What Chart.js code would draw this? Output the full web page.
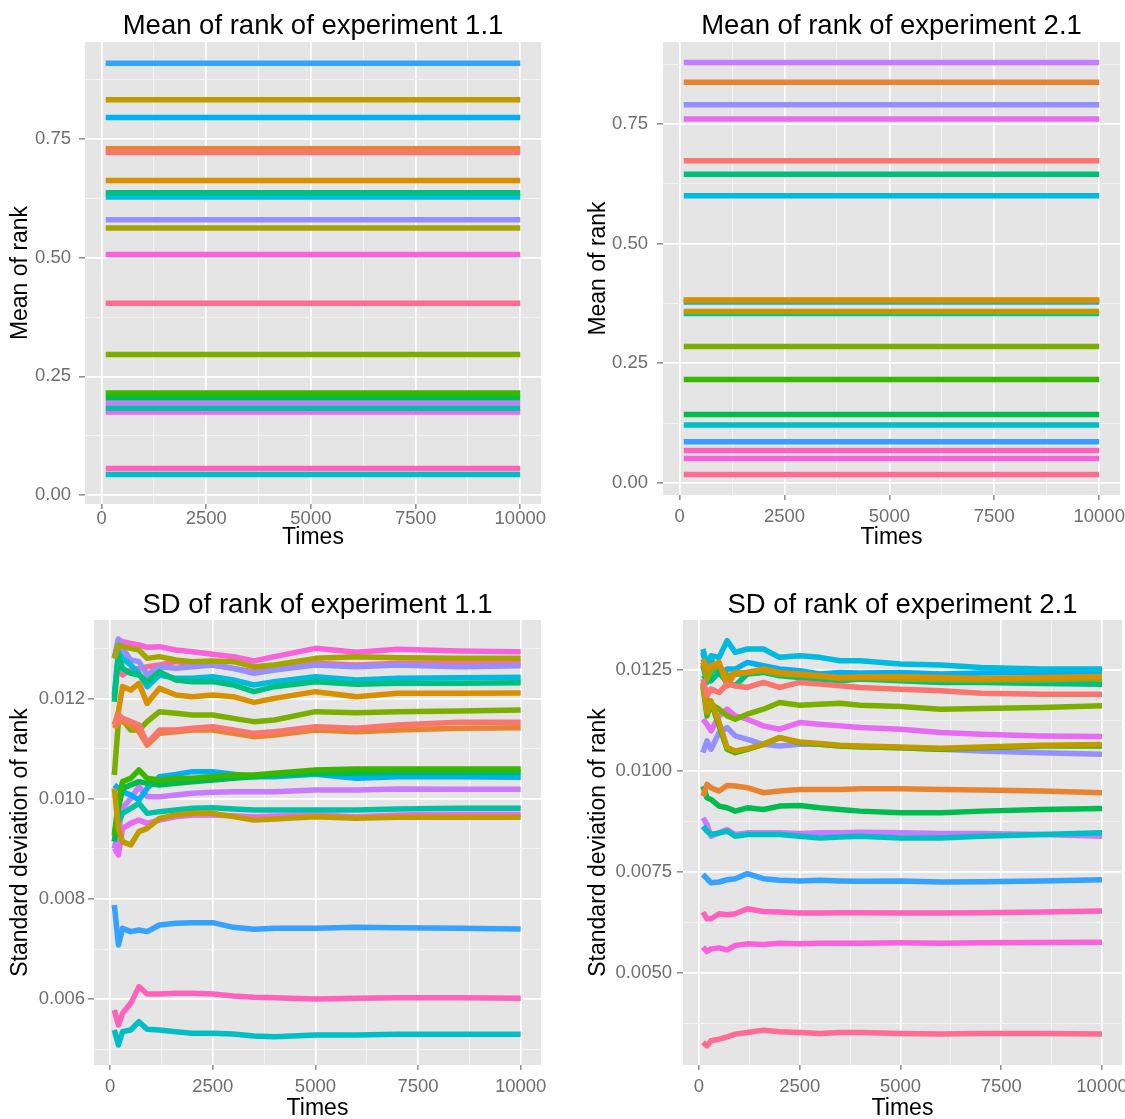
<!DOCTYPE html>
<html>
<head>
<meta charset="utf-8">
<script src="https://cdn.jsdelivr.net/npm/chart.js@4.4.0/dist/chart.umd.min.js"></script>
<style>
  html, body { margin: 0; padding: 0; background: #fff; overflow: hidden; }
  #fig { position: relative; width: 1125px; height: 1119px; overflow: hidden; }
  canvas { position: absolute; }
</style>
</head>
<body>
<div id="fig">
  <canvas id="c1" width="560" height="560" style="left:0;top:0"></canvas>
  <canvas id="c2" width="600" height="560" style="left:565px;top:0"></canvas>
  <canvas id="c3" width="560" height="569" style="left:0;top:560px"></canvas>
  <canvas id="c4" width="600" height="569" style="left:565px;top:560px"></canvas>
</div>
<script>
// ggplot default hue palette, 20 series, in factor order
const hueColors = ['#F8766D', '#EA8331', '#D89000', '#C09B00', '#A3A500', '#7CAE00', '#39B600', '#00BB4E', '#00BF7D', '#00C1A3',
  '#00BFC4', '#00BAE0', '#00B0F6', '#35A2FF', '#9590FF', '#C77CFF', '#E76BF3', '#FA62DB', '#FF62BC', '#FF6C91'];

const timeTicks = [0, 2500, 5000, 7500, 10000];
const meanTicks = [0, 0.25, 0.5, 0.75];
const sd11Ticks = [0.006, 0.008, 0.010, 0.012];
const sd21Ticks = [0.005, 0.0075, 0.010, 0.0125];

// mean of rank (flat over the whole run)
const meanTimes = [100, 10000];
const meanExp11 = [0.722, 0.730, 0.663, 0.833, 0.563, 0.296, 0.215, 0.205, 0.637, 0.183,
  0.043, 0.628, 0.796, 0.910, 0.580, 0.194, 0.175, 0.507, 0.056, 0.404];
const meanExp21 = [0.673, 0.837, 0.382, 0.358, 0.381, 0.285, 0.216, 0.143, 0.645, 0.354,
  0.121, 0.600, 0.378, 0.086, 0.790, 0.878, 0.760, 0.051, 0.068, 0.018];

// SD of rank, values in thousandths
const SD_UNIT = 1e-3;
const sdTimes = [100, 200, 300, 500, 700, 900, 1200, 1600, 2000, 2500, 3000, 3500, 4000, 5000, 6000, 7000, 8500, 10000];
const sdExp11 = [
  [11.48, 11.68, 11.613, 11.547, 11.48, 11.113, 11.38, 11.38, 11.413, 11.447, 11.38, 11.313, 11.347, 11.447, 11.413, 11.48, 11.533, 11.533],
  [11.413, 11.547, 11.547, 11.48, 11.347, 11.08, 11.313, 11.347, 11.38, 11.38, 11.313, 11.247, 11.28, 11.38, 11.347, 11.38, 11.413, 11.427],
  [11.48, 11.747, 12.247, 12.18, 12.313, 11.913, 12.213, 12.08, 12.047, 12.08, 12.047, 11.933, 12.013, 12.147, 12.047, 12.113, 12.113, 12.12],
  [10.213, 9.413, 9.147, 9.08, 9.347, 9.413, 9.613, 9.68, 9.713, 9.713, 9.647, 9.58, 9.6, 9.647, 9.613, 9.633, 9.633, 9.633],
  [12.813, 13.08, 13.047, 13.013, 12.98, 12.813, 12.847, 12.78, 12.747, 12.76, 12.747, 12.647, 12.68, 12.813, 12.847, 12.827, 12.813, 12.813],
  [10.48, 11.547, 11.58, 11.38, 11.38, 11.547, 11.747, 11.713, 11.68, 11.68, 11.613, 11.547, 11.58, 11.747, 11.727, 11.747, 11.76, 11.78],
  [9.28, 9.947, 10.347, 10.413, 10.58, 10.413, 10.38, 10.413, 10.413, 10.447, 10.48, 10.48, 10.513, 10.58, 10.6, 10.6, 10.6, 10.6],
  [9.147, 9.813, 10.213, 10.28, 10.347, 10.313, 10.28, 10.313, 10.347, 10.38, 10.413, 10.447, 10.48, 10.513, 10.513, 10.533, 10.533, 10.533],
  [11.947, 12.88, 12.613, 12.513, 12.48, 12.347, 12.547, 12.38, 12.347, 12.347, 12.28, 12.147, 12.247, 12.347, 12.293, 12.313, 12.313, 12.327],
  [9.347, 9.547, 9.713, 9.813, 9.913, 9.713, 9.747, 9.78, 9.813, 9.827, 9.8, 9.78, 9.78, 9.78, 9.78, 9.8, 9.813, 9.813],
  [5.38, 5.08, 5.347, 5.38, 5.547, 5.393, 5.38, 5.347, 5.313, 5.313, 5.3, 5.26, 5.247, 5.28, 5.28, 5.293, 5.293, 5.293],
  [12.08, 12.947, 12.813, 12.68, 12.513, 12.247, 12.48, 12.413, 12.413, 12.447, 12.38, 12.28, 12.347, 12.447, 12.38, 12.413, 12.427, 12.433],
  [10.28, 10.213, 10.147, 10.08, 9.98, 10.213, 10.447, 10.493, 10.547, 10.547, 10.493, 10.447, 10.447, 10.493, 10.413, 10.447, 10.447, 10.433],
  [7.88, 7.08, 7.413, 7.347, 7.38, 7.347, 7.48, 7.513, 7.527, 7.527, 7.433, 7.393, 7.413, 7.413, 7.433, 7.427, 7.413, 7.4],
  [12.813, 13.2, 13.013, 12.78, 12.747, 12.48, 12.647, 12.613, 12.647, 12.68, 12.613, 12.513, 12.58, 12.68, 12.647, 12.68, 12.647, 12.667],
  [9.013, 9.347, 9.813, 10.013, 10.247, 10.047, 10.047, 10.08, 10.113, 10.133, 10.147, 10.147, 10.147, 10.18, 10.18, 10.2, 10.193, 10.193],
  [9.013, 8.88, 9.413, 9.513, 9.58, 9.513, 9.58, 9.647, 9.68, 9.68, 9.667, 9.647, 9.66, 9.68, 9.647, 9.68, 9.693, 9.693],
  [12.813, 13.18, 13.147, 13.113, 13.08, 13.033, 13.047, 12.98, 12.947, 12.893, 12.847, 12.76, 12.847, 13.013, 12.933, 12.993, 12.96, 12.947],
  [5.78, 5.48, 5.713, 5.913, 6.247, 6.1, 6.1, 6.113, 6.113, 6.1, 6.06, 6.033, 6.027, 6.0, 6.013, 6.027, 6.027, 6.013],
  [12.013, 12.88, 12.48, 12.58, 12.613, 12.647, 12.68, 12.747, 12.713, 12.68, 12.613, 12.547, 12.613, 12.713, 12.68, 12.713, 12.713, 12.713]
];
const sdExp21 = [
  [12.276, 11.863, 12.028, 11.945, 12.152, 12.111, 12.07, 12.194, 12.07, 12.194, 12.152, 12.111, 12.07, 12.028, 11.987, 11.929, 11.904, 11.904],
  [9.379, 9.669, 9.586, 9.503, 9.644, 9.627, 9.586, 9.462, 9.503, 9.545, 9.545, 9.545, 9.561, 9.561, 9.545, 9.528, 9.503, 9.462],
  [12.773, 12.525, 12.608, 12.69, 12.111, 12.442, 12.442, 12.525, 12.442, 12.401, 12.359, 12.318, 12.334, 12.343, 12.318, 12.293, 12.318, 12.343],
  [12.152, 11.449, 11.738, 11.2, 10.579, 10.497, 10.555, 10.662, 10.828, 10.72, 10.679, 10.637, 10.621, 10.596, 10.563, 10.596, 10.637, 10.654],
  [12.69, 12.276, 12.525, 12.608, 12.359, 12.401, 12.442, 12.483, 12.401, 12.376, 12.343, 12.293, 12.31, 12.276, 12.26, 12.252, 12.26, 12.293],
  [12.194, 11.78, 11.656, 11.531, 11.366, 11.283, 11.407, 11.531, 11.697, 11.631, 11.656, 11.68, 11.631, 11.598, 11.531, 11.548, 11.573, 11.614],
  [12.111, 11.366, 11.697, 11.118, 10.538, 10.455, 10.538, 10.662, 10.828, 10.704, 10.662, 10.621, 10.604, 10.579, 10.538, 10.579, 10.621, 10.621],
  [9.627, 9.338, 9.296, 9.131, 9.089, 9.007, 9.089, 9.048, 9.131, 9.147, 9.089, 9.048, 9.007, 8.965, 8.965, 9.007, 9.048, 9.073],
  [12.276, 12.359, 12.235, 12.442, 12.194, 12.111, 12.401, 12.442, 12.359, 12.318, 12.276, 12.235, 12.276, 12.235, 12.194, 12.194, 12.169, 12.152],
  [12.608, 12.194, 12.442, 12.608, 12.318, 12.401, 12.401, 12.525, 12.401, 12.359, 12.359, 12.276, 12.318, 12.293, 12.235, 12.235, 12.235, 12.276],
  [8.634, 8.51, 8.427, 8.469, 8.51, 8.386, 8.427, 8.427, 8.427, 8.386, 8.344, 8.369, 8.386, 8.344, 8.344, 8.386, 8.427, 8.469],
  [13.022, 12.608, 12.856, 12.815, 13.228, 12.939, 13.022, 13.022, 12.815, 12.856, 12.815, 12.732, 12.732, 12.649, 12.624, 12.566, 12.525, 12.525],
  [12.939, 12.525, 12.773, 12.401, 12.525, 12.525, 12.69, 12.608, 12.525, 12.483, 12.401, 12.442, 12.425, 12.442, 12.401, 12.425, 12.442, 12.459],
  [7.442, 7.334, 7.235, 7.252, 7.31, 7.334, 7.459, 7.334, 7.293, 7.276, 7.293, 7.276, 7.268, 7.276, 7.252, 7.26, 7.276, 7.31],
  [10.455, 10.745, 10.538, 10.952, 11.076, 10.869, 10.786, 10.662, 10.621, 10.662, 10.662, 10.621, 10.604, 10.579, 10.538, 10.497, 10.455, 10.414],
  [8.841, 8.676, 8.386, 8.469, 8.551, 8.427, 8.469, 8.469, 8.469, 8.452, 8.469, 8.469, 8.485, 8.469, 8.452, 8.452, 8.427, 8.386],
  [11.283, 11.159, 10.993, 11.366, 11.531, 11.366, 11.283, 11.118, 11.035, 11.2, 11.159, 11.118, 11.076, 11.035, 10.952, 10.911, 10.869, 10.853],
  [5.637, 5.53, 5.596, 5.621, 5.571, 5.679, 5.72, 5.704, 5.737, 5.72, 5.737, 5.737, 5.737, 5.745, 5.737, 5.745, 5.753, 5.762],
  [6.507, 6.341, 6.341, 6.465, 6.44, 6.465, 6.589, 6.523, 6.507, 6.482, 6.482, 6.49, 6.49, 6.482, 6.482, 6.49, 6.507, 6.531],
  [3.278, 3.195, 3.32, 3.361, 3.419, 3.485, 3.526, 3.584, 3.543, 3.526, 3.502, 3.526, 3.526, 3.502, 3.485, 3.502, 3.502, 3.485]
];

const FONT = "'Liberation Sans', Arial, sans-serif";
const tickGrey = '#6e6e6e';

// grey panel like theme_grey
const panelBg = {
  id: 'panelBg',
  beforeDraw(chart) {
    const { ctx, chartArea: a } = chart;
    ctx.save();
    ctx.fillStyle = '#E5E5E5';
    ctx.fillRect(a.left, a.top, a.right - a.left, a.bottom - a.top);
    ctx.restore();
  }
};

// major ticks plus minor ones half way between
function withMinor(major, min, max) {
  const step = major[1] - major[0];
  const out = major.map(v => ({ value: v }));
  for (let v = major[0] - step / 2; v <= max; v += step) {
    if (v >= min && !major.some(m => Math.abs(m - v) < step / 10)) out.push({ value: v, minor: true });
  }
  return out.sort((a, b) => a.value - b.value);
}

function axis(o) {
  return {
    type: 'linear',
    min: o.min,
    max: o.max,
    afterBuildTicks: s => { s.ticks = withMinor(o.ticks, o.min, o.max); },
    afterFit: o.fit,
    border: { display: false },
    grid: {
      color: c => (c.tick && c.tick.minor ? '#F2F2F2' : '#FFFFFF'),
      lineWidth: c => (c.tick && c.tick.minor ? 1 : 1.7),
      tickColor: c => (c.tick && c.tick.minor ? 'rgba(0,0,0,0)' : tickGrey),
      tickWidth: 1.2,
      tickLength: o.tickLength,
      drawTicks: true
    },
    ticks: {
      autoSkip: false,
      maxRotation: 0,
      minRotation: 0,
      padding: o.pad,
      color: tickGrey,
      font: { family: FONT, size: 18.5 },
      callback: (v, i, t) => (t[i].minor ? '' : Number(v).toFixed(o.dec))
    },
    title: {
      display: true,
      text: o.title,
      color: '#000',
      font: { family: FONT, size: 23, lineHeight: 1 },
      padding: o.titlePad
    }
  };
}

function meanSets(values) {
  return values.map((v, i) => ({
    data: meanTimes.map(t => ({ x: t, y: v })),
    borderColor: hueColors[i]
  }));
}

function sdSets(series) {
  return series.map((vals, i) => ({
    data: sdTimes.map((t, j) => ({ x: t, y: vals[j] * SD_UNIT })),
    borderColor: hueColors[i]
  }));
}

function drawPanel(id, p, datasets) {
  new Chart(document.getElementById(id), {
    type: 'line',
    data: { datasets },
    options: {
      responsive: false,
      animation: false,
      devicePixelRatio: 1,
      events: [],
      layout: { padding: { left: 0, top: 0, right: p.w - p.area.r, bottom: 0 } },
      elements: {
        line: { borderWidth: 5.5, tension: 0, fill: false, borderCapStyle: 'butt', borderJoinStyle: 'round' },
        point: { radius: 0 }
      },
      plugins: {
        legend: { display: false },
        tooltip: { enabled: false },
        title: {
          display: true,
          text: p.title,
          color: '#000',
          fullSize: false,
          font: { family: FONT, size: 27.5, weight: 'normal', lineHeight: 1 },
          padding: p.titlePad
        }
      },
      scales: {
        x: axis({
          min: -395, max: 10495, ticks: timeTicks, dec: 0, title: 'Times',
          tickLength: 5, pad: p.xPad, titlePad: { top: 0, bottom: p.xTitlePad },
          fit: s => { s.height = p.h - p.area.b; }
        }),
        y: axis({
          min: p.yMin, max: p.yMax, ticks: p.yTicks, dec: p.dec, title: p.yTitle,
          tickLength: 6, pad: p.yPad, titlePad: { top: p.yTitlePad, bottom: 0 },
          fit: s => { s.width = p.area.l; }
        })
      }
    },
    plugins: [panelBg]
  });
}

drawPanel('c1', {
  w: 560, h: 560, area: { l: 85, t: 42, r: 541, b: 504 },
  title: 'Mean of rank of experiment 1.1', titlePad: { top: 13, bottom: 1.5 },
  yTitle: 'Mean of rank', yMin: -0.019, yMax: 0.955, yTicks: meanTicks, dec: 2,
  yPad: 8, yTitlePad: 9, xPad: -1, xTitlePad: 11
}, meanSets(meanExp11));

drawPanel('c2', {
  w: 600, h: 560, area: { l: 98, t: 42, r: 555, b: 495 },
  title: 'Mean of rank of experiment 2.1', titlePad: { top: 13, bottom: 1.5 },
  yTitle: 'Mean of rank', yMin: -0.025, yMax: 0.921, yTicks: meanTicks, dec: 2,
  yPad: 9, yTitlePad: 22.5, xPad: 5.5, xTitlePad: 10.5
}, meanSets(meanExp21));

drawPanel('c3', {
  w: 560, h: 569, area: { l: 94, t: 60, r: 541, b: 505 },
  title: 'SD of rank of experiment 1.1', titlePad: { top: 31.5, bottom: 1 },
  yTitle: 'Standard deviation of rank', yMin: 0.00468, yMax: 0.01358, yTicks: sd11Ticks, dec: 3,
  yPad: 3, yTitlePad: 9, xPad: 6, xTitlePad: 8.5
}, sdSets(sdExp11));

drawPanel('c4', {
  w: 600, h: 569, area: { l: 118, t: 60, r: 557, b: 505 },
  title: 'SD of rank of experiment 2.1', titlePad: { top: 31.5, bottom: 1 },
  yTitle: 'Standard deviation of rank', yMin: 0.00272, yMax: 0.01374, yTicks: sd21Ticks, dec: 4,
  yPad: 5, yTitlePad: 22.5, xPad: 6, xTitlePad: 8.5
}, sdSets(sdExp21));
</script>
</body>
</html>
